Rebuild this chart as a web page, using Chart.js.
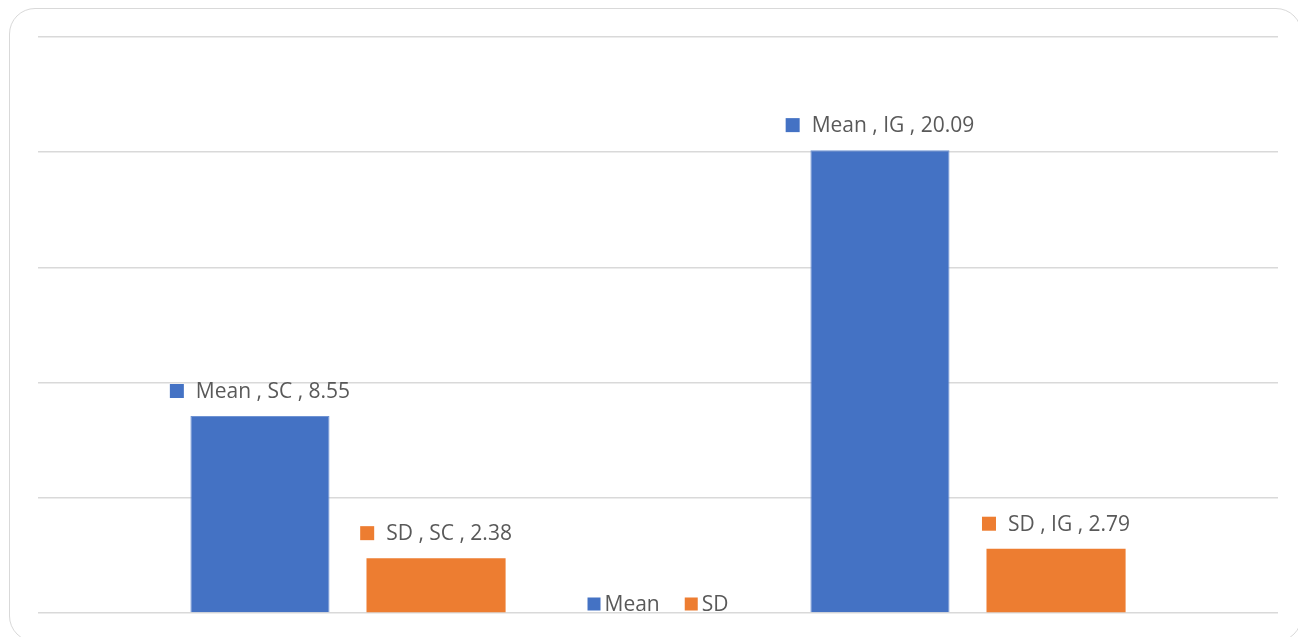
<!DOCTYPE html>
<html>
<head>
<meta charset="utf-8">
<script src="https://cdn.jsdelivr.net/npm/chart.js@4/dist/chart.umd.min.js"></script>
<style>
  html, body { margin: 0; padding: 0; background: #fff; overflow: hidden; }
  #frame { position: absolute; left: 9px; top: 8px; width: 1293px; height: 634px;
           border: 1.5px solid #d9d9d9; border-radius: 26px; box-sizing: border-box; }
  #chartCanvas { position: absolute; left: 0; top: 0; }
</style>
</head>
<body>
<div id="frame"></div>
<canvas id="chartCanvas" width="1298" height="637"></canvas>
<script>
const categories = ["SC", "IG"];
const meanValues = [8.55, 20.09];
const sdValues = [2.38, 2.79];
const seriesNames = ["Mean", "SD"];
const yTicks = [0, 5, 10, 15, 20, 25];

const labelFont = "21px 'Open Sans', 'Noto Sans', sans-serif";
const textColor = "#595959";

// value labels drawn like excel: [key] Series , Category , value
const valueLabels = {
  id: "valueLabels",
  afterDatasetsDraw(chart) {
    const ctx = chart.ctx;
    ctx.save();
    ctx.font = labelFont;
    ctx.textBaseline = "middle";
    chart.data.datasets.forEach((ds, i) => {
      const meta = chart.getDatasetMeta(i);
      meta.data.forEach((bar, j) => {
        const text = `${ds.label} , ${chart.data.labels[j]} , ${ds.data[j]}`;
        const tw = ctx.measureText(text).width;
        const box = 14, gap = 12;
        const total = box + gap + tw;
        const x0 = bar.x - total / 2;
        const y = bar.y - 25;
        ctx.fillStyle = ds.backgroundColor;
        ctx.fillRect(x0, y - box / 2, box, box);
        ctx.fillStyle = textColor;
        ctx.textAlign = "left";
        ctx.fillText(text, x0 + box + gap, y + 1);
      });
    });
    ctx.restore();
  }
};

// legend sitting just above the bottom gridline, centred
const bottomLegend = {
  id: "bottomLegend",
  afterDraw(chart) {
    const ctx = chart.ctx;
    const area = chart.chartArea;
    ctx.save();
    ctx.font = labelFont;
    ctx.textBaseline = "middle";
    const box = 13, gap = 4, spacing = 25;
    const items = chart.data.datasets.map(ds => ({ text: ds.label, color: ds.backgroundColor, w: ctx.measureText(ds.label).width }));
    const total = items.reduce((s, it) => s + box + gap + it.w, 0) + spacing * (items.length - 1);
    let x = (area.left + area.right) / 2 - total / 2;
    const y = area.bottom - 9;
    items.forEach(it => {
      ctx.fillStyle = it.color;
      ctx.fillRect(x, y - box / 2, box, box);
      ctx.fillStyle = textColor;
      ctx.fillText(it.text, x + box + gap, y + 1);
      x += box + gap + it.w + spacing;
    });
    ctx.restore();
  }
};

const ctx = document.getElementById("chartCanvas").getContext("2d");
new Chart(ctx, {
  type: "bar",
  data: {
    labels: categories,
    datasets: [
      { label: seriesNames[0], data: meanValues, backgroundColor: "#4472C4", borderColor: "#6f93d3", borderWidth: 1 },
      { label: seriesNames[1], data: sdValues, backgroundColor: "#ED7D31" }
    ]
  },
  options: {
    responsive: false,
    animation: false,
    layout: { padding: { left: 38, right: 20, top: 37, bottom: 24 } },
    datasets: { bar: { categoryPercentage: 0.568, barPercentage: 0.79 } },
    plugins: { legend: { display: false }, tooltip: { enabled: false } },
    scales: {
      x: { display: false },
      y: {
        min: yTicks[0],
        max: yTicks[yTicks.length - 1],
        afterBuildTicks: (axis) => { axis.ticks = yTicks.map(v => ({ value: v })); },
        ticks: { display: false },
        border: { display: false },
        grid: { color: "#d9d9d9", lineWidth: 1.5, drawTicks: false, tickLength: 0 }
      }
    }
  },
  plugins: [valueLabels, bottomLegend]
});
</script>
</body>
</html>
